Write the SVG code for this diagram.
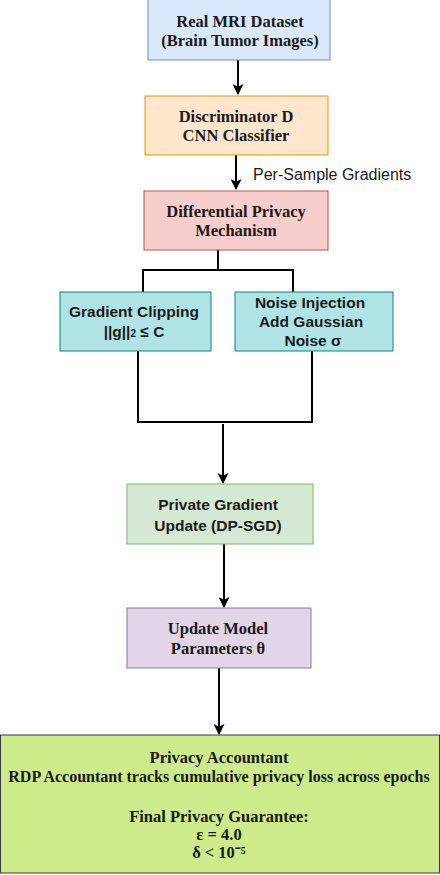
<svg xmlns="http://www.w3.org/2000/svg" width="440" height="875" viewBox="0 0 440 875">
<defs>
<style>
.serif{font-family:"Liberation Serif","Times New Roman",serif;font-weight:bold;font-size:16.5px;fill:#1a1a1a;text-anchor:middle}
.sans{font-family:"Liberation Sans",Arial,sans-serif;font-weight:bold;font-size:15.5px;fill:#1a1a1a;text-anchor:middle}
.lbl{font-family:"Liberation Sans",Arial,sans-serif;font-size:16px;fill:#1a1a1a}
.edge{fill:none;stroke:#000;stroke-width:2}
.long{font-family:"Liberation Serif","Times New Roman",serif;font-weight:bold;font-size:16px;fill:#1a1a1a;text-anchor:middle}
</style>
<marker id="arr" viewBox="0 0 10 10" refX="9" refY="5" markerWidth="5.5" markerHeight="5.5" markerUnits="strokeWidth" orient="auto">
<path d="M0,0 L10,5 L0,10 L2.5,5 Z" fill="#000"/>
</marker>
</defs>
<rect width="440" height="875" fill="#fff"/>
<g id="connectors">
<line class="edge" x1="238" y1="60" x2="238" y2="94" marker-end="url(#arr)"/>
<line class="edge" x1="236" y1="155" x2="236" y2="189" marker-end="url(#arr)"/>
<text class="lbl" x="253" y="180">Per-Sample Gradients</text>
<polyline class="edge" points="218,250 218,270"/>
<polyline class="edge" points="143,292 143,270 293,270 293,292"/>
<polyline class="edge" points="138,351 138,422 312,422 312,351"/>
<line class="edge" x1="223" y1="424" x2="223" y2="483" marker-end="url(#arr)"/>
<line class="edge" x1="224" y1="544" x2="224" y2="607" marker-end="url(#arr)"/>
<line class="edge" x1="219" y1="668" x2="219" y2="734" marker-end="url(#arr)"/>
</g>
<g id="n1">
<rect x="148" y="-1" width="182" height="61" fill="#dae8fc" stroke="#6c8ebf" stroke-width="1"/>
<text class="serif" x="240" y="27">Real MRI Dataset</text>
<text class="serif" x="240" y="46">(Brain Tumor Images)</text>
</g>
<g id="n2">
<rect x="145" y="96" width="183" height="59" fill="#ffe6cc" stroke="#d79b00" stroke-width="1"/>
<text class="serif" x="236" y="122">Discriminator D</text>
<text class="serif" x="236" y="141">CNN Classifier</text>
</g>
<g id="n3">
<rect x="144" y="191" width="184" height="59" fill="#f8cecc" stroke="#b85450" stroke-width="1"/>
<text class="serif" x="236" y="217">Differential Privacy</text>
<text class="serif" x="236" y="236">Mechanism</text>
</g>
<g id="n4">
<rect x="60" y="292" width="151" height="59" fill="#b0e3e6" stroke="#0e8088" stroke-width="1"/>
<text class="sans" x="134" y="317">Gradient Clipping</text>
<text class="sans" x="134" y="337">||g||<tspan font-size="10">2</tspan> ≤ C</text>
</g>
<g id="n5">
<rect x="235" y="292" width="158" height="59" fill="#b0e3e6" stroke="#0e8088" stroke-width="1"/>
<text class="sans" x="310" y="308">Noise Injection</text>
<text class="sans" x="311" y="327">Add Gaussian</text>
<text class="sans" x="313" y="346">Noise σ</text>
</g>
<g id="n6">
<rect x="127" y="484" width="186" height="60" fill="#d5e8d4" stroke="#82b366" stroke-width="1"/>
<text class="sans" x="218" y="510">Private Gradient</text>
<text class="sans" x="218" y="531">Update (DP-SGD)</text>
</g>
<g id="n7">
<rect x="127" y="608" width="184" height="60" fill="#e1d5e7" stroke="#9673a6" stroke-width="1"/>
<text class="serif" x="218" y="634">Update Model</text>
<text class="serif" x="218" y="654">Parameters θ</text>
</g>
<g id="n8">
<rect x="0.5" y="735" width="439" height="138" fill="#cdeb8b" stroke="#36393d" stroke-width="1"/>
<text class="serif" x="219" y="763">Privacy Accountant</text>
<text class="long" x="219" y="782">RDP Accountant tracks cumulative privacy loss across epochs</text>
<text class="serif" x="219" y="822">Final Privacy Guarantee:</text>
<text class="serif" x="219" y="840">ε = 4.0</text>
<text class="serif" x="219" y="858">δ &lt; 10⁻⁵</text>
</g>
</svg>
